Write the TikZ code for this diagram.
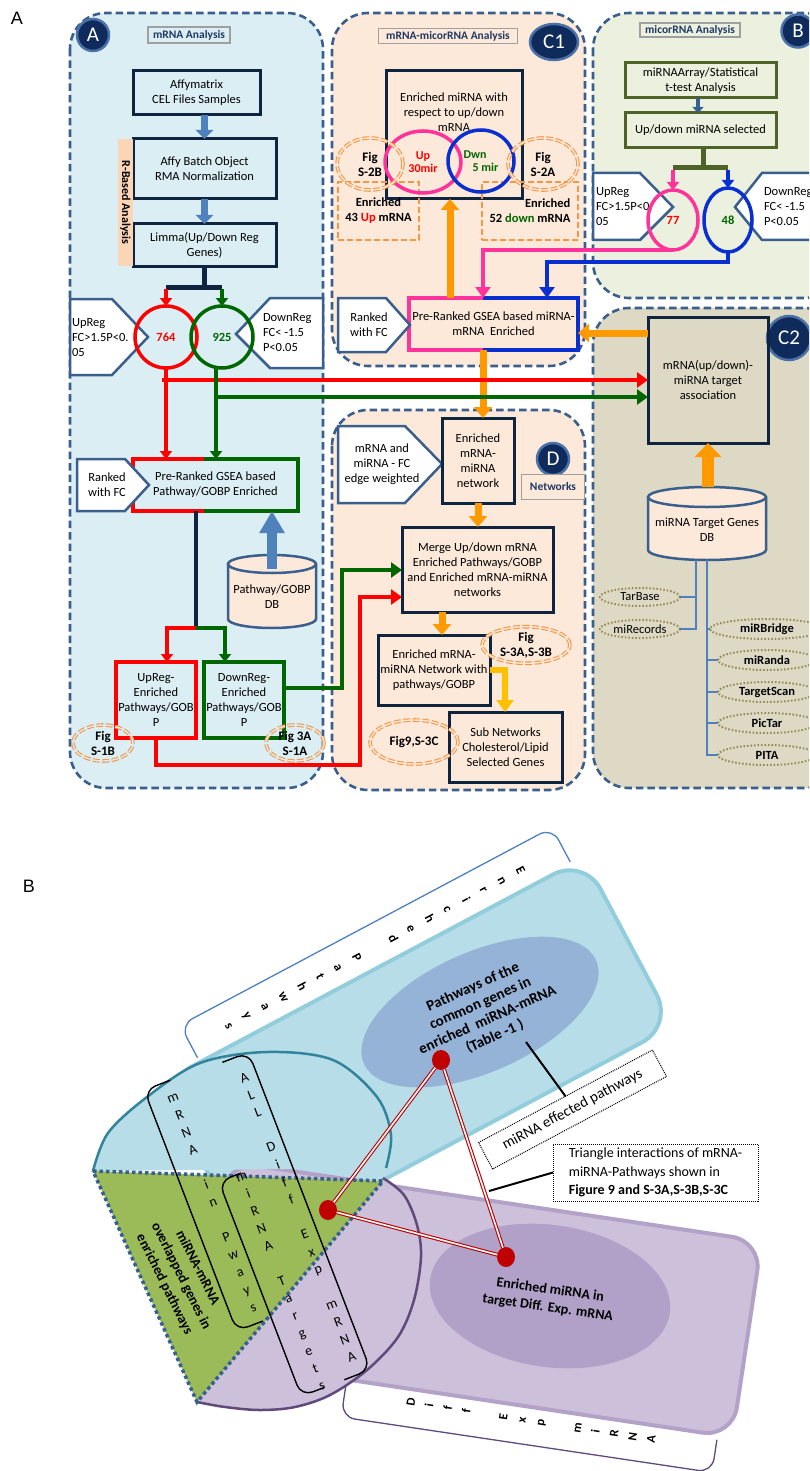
\documentclass[tikz,border=0pt]{standalone}
\usepackage{fontspec}
\setmainfont{Carlito}
\newfontfamily\arialf{Liberation Sans}
\usetikzlibrary{arrows.meta,shapes.geometric,calc}
\definecolor{fillA}{HTML}{DBEEF4}
\definecolor{fillC}{HTML}{FDE9D9}
\definecolor{fillB}{HTML}{EBF1DE}
\definecolor{fillCC}{HTML}{DDD9C4}
\definecolor{pnl}{HTML}{3A5F8C}
\definecolor{navy}{HTML}{0F243E}
\definecolor{steel}{HTML}{4F81BD}
\definecolor{rd}{HTML}{FF0000}
\definecolor{gr}{HTML}{006600}
\definecolor{pk}{HTML}{FF3399}
\definecolor{bl}{HTML}{0A2FD0}
\definecolor{org}{HTML}{FF9900}
\definecolor{gold}{HTML}{FFC000}
\definecolor{olive}{HTML}{4F6228}
\definecolor{figor}{HTML}{F79646}
\definecolor{peach}{HTML}{FBD5B5}
\definecolor{badgeF}{HTML}{0F2B5B}
\definecolor{badgeD}{HTML}{4A71A8}
\definecolor{dbolive}{HTML}{948A54}
\definecolor{lblue}{HTML}{B7DDE8}
\definecolor{lblueB}{HTML}{92CDDC}
\definecolor{pwblue}{HTML}{95B3D7}
\definecolor{lav}{HTML}{CCC0DA}
\definecolor{lavB}{HTML}{B3A2C7}
\definecolor{lavD}{HTML}{B1A0C7}
\definecolor{tealB}{HTML}{31849B}
\definecolor{purp}{HTML}{604A7B}
\definecolor{tgreen}{HTML}{9BBB59}
\definecolor{dotb}{HTML}{376092}
\definecolor{dred}{HTML}{C00000}
\definecolor{lblnavy}{HTML}{1F3864}
\tikzset{
 every node/.style={font=\fontsize{12.5}{15}\selectfont, inner sep=0pt, outer sep=0pt},
 panel/.style={draw=pnl, line width=2.6, dash pattern=on 7.5pt off 4pt, rounded corners=36},
 nbox/.style={draw=navy, line width=3, align=center},
 obox/.style={draw=olive, line width=3, align=center, fill=fillB},
 pent/.style={draw=pnl, fill=white, line width=2.5},
 badge/.style={circle, fill=badgeF, draw=badgeD, line width=2.5, text=white, font=\fontsize{21}{21}\selectfont},
 lbl/.style={draw=gray!75, line width=1.4, font=\bfseries\fontsize{11.5}{13}\selectfont, text=lblnavy, inner sep=1pt},
 figell/.style={ellipse, draw=figor, line width=1.1, double distance=1.4, dash pattern=on 7pt off 2.5pt, align=center, font=\bfseries\fontsize{13}{15}\selectfont},
 dbox/.style={draw=figor, line width=2.5, dash pattern=on 6pt off 3pt, align=center, font=\bfseries\fontsize{12.5}{15}\selectfont},
 bluear/.style={draw=steel, line width=7, -{Triangle[width=17pt,length=9pt]}},
 redln/.style={draw=rd, line width=4.5},
 grnln/.style={draw=gr, line width=4.5},
 pinkln/.style={draw=pk, line width=4},
 blueln/.style={draw=bl, line width=4},
 tipS/.style={-{Triangle[width=12pt,length=8pt]}},
 tipM/.style={-{Triangle[width=15pt,length=11pt]}},
 orar/.style={draw=org, line width=7, -{Triangle[width=18pt,length=11pt]}},
 navl/.style={draw=navy, line width=4.5},
 numtxt/.style={font=\bfseries\fontsize{12.5}{15}\selectfont},
 dbell/.style={ellipse, draw=dbolive, line width=2, dash pattern=on 1.5pt off 2pt, font=\fontsize{12.5}{15}\selectfont},
 dbellb/.style={dbell, font=\bfseries\fontsize{12.5}{15}\selectfont},
 thinb/.style={draw=steel, line width=1.4},
 vcol/.style={align=center, font=\fontsize{14}{18.7}\selectfont},
 dbl/.style={draw=dred, double=white, line width=1.1, double distance=1.6},
 brk/.style={draw=black, line width=1.4, rounded corners=12},
 dotbox/.style={draw=black, line width=1, dash pattern=on 1pt off 1pt, fill=white},
}
\begin{document}
\begin{tikzpicture}[x=1pt,y=-1pt,line join=miter]
\fill[white] (0,0) rectangle (809,1471);
\useasboundingbox (0,0) rectangle (809,1471);
\clip (0,0) rectangle (809,1471);

\node[font=\arialf\fontsize{18}{18}\selectfont] (labA) at (17,18) {A};
\node[font=\arialf\fontsize{18}{18}\selectfont] (labB) at (29,886) {B};

% ---------- panels
\path[panel, fill=fillA] (70,13) rectangle (323,788);
\path[panel, fill=fillC] (332,13) rectangle (585,366);
\path[panel, fill=fillC] (332,410) rectangle (585,790);
\path[panel, fill=fillB] (593,13) rectangle (840,298);
\path[panel, fill=fillCC] (593,308) rectangle (840,788);

\node[badge, minimum size=32] (bA) at (93,35) {A};
\node[badge, ellipse, minimum width=48, minimum height=36] (bC1) at (554,42) {C1};
\node[badge, minimum size=33] (bB) at (798,31) {B};
\node[badge, minimum size=44] (bC2) at (789,338) {C2};
\node[badge, minimum size=32] (bD) at (553,459) {D};

\node[lbl, fill=fillA, minimum width=82, minimum height=16] (tA) at (189,35) {mRNA Analysis};
\node[lbl, fill=fillC, minimum width=139, minimum height=15] (tC1) at (448,36) {mRNA-micorRNA Analysis};
\node[lbl, fill=fillB, minimum width=100, minimum height=14] (tB) at (690,30) {micorRNA Analysis};
\node[lbl, fill=fillC, minimum width=63, minimum height=25] (tD) at (553,487) {Networks};

% ---------- panel A
\node[nbox, minimum width=127, minimum height=44] (aff) at (196.5,93) {Affymatrix\\CEL Files Samples};
\node[nbox, minimum width=143, minimum height=60] (affy) at (204.5,169) {Affy Batch Object\\RMA Normalization};
\node[nbox, minimum width=143, minimum height=42] (limma) at (204.5,245) {Limma(Up/Down Reg\\Genes)};
\node[fill=peach, rotate=-90, minimum width=127, minimum height=15, font=\bfseries\fontsize{12}{14}\selectfont] (rba) at (125.5,202.5) {R-Based Analysis};
\draw[bluear] (aff.south -| affy.north) -- (affy.north);
\draw[bluear] (affy.south) -- (limma.north);

\path[pent] (70,299) -- (112,299) -- (148,337) -- (112,375) -- (70,375) -- cycle;
\node[anchor=west, align=left] (upA) at (72,338) {UpReg\\FC>1.5P<0.\\05};
\path[pent] (323,298) -- (270,298) -- (236,334) -- (270,368) -- (323,368) -- cycle;
\node[anchor=west, align=left] (dnA) at (263,333) {DownReg\\FC< -1.5\\P<0.05};

\node[circle, draw=rd, line width=3.5, minimum size=62, numtxt, text=rd] (c764) at (166,337) {764};
\node[circle, draw=gr, line width=3.5, minimum size=62, numtxt, text=gr] (c925) at (222,337) {925};

\coordinate (lbar) at (204.5,287);
\draw[navl] (limma.south) -- (lbar);
\draw[navl, line width=5] (c764.north |- lbar) -- (c925.north |- lbar);
\draw[redln, tipS] (c764.north |- 0,289) -- (c764.north);
\draw[grnln, tipS] (c925.north |- 0,289) -- (c925.north);

\node[minimum width=165, minimum height=52, align=center] (gseaA) at (215.5,485) {Pre-Ranked GSEA based\\Pathway/GOBP Enriched};
\draw[draw=rd, line width=3.5] (204,459) -- (gseaA.north west) -- (gseaA.south west) -- (204,511);
\draw[draw=gr, line width=3.5] (204,459) -- (gseaA.north east) -- (gseaA.south east) -- (204,511);
\path[pent] (77,459) -- (125,459) -- (149,485) -- (125,511) -- (77,511) -- cycle;
\node[align=center] (rkA) at (107,485) {Ranked\\with FC};

\node[draw=rd, line width=3.5, minimum width=80, minimum height=76, align=center] (upenr) at (156,700) {UpReg-\\Enriched\\Pathways/GOB\\P};
\node[draw=gr, line width=3.5, minimum width=80, minimum height=76, align=center] (dnenr) at (244,700) {DownReg-\\Enriched\\Pathways/GOB\\P};

% Pathway DB cylinder
\path[fill=fillC] (228,564) -- (228,619) arc[start angle=180, end angle=0, x radius=44, y radius=9] -- (316,564) -- cycle;
\draw[draw=pnl, line width=2.5] (228,564) -- (228,619) arc[start angle=180, end angle=0, x radius=44, y radius=9] -- (316,564);
\draw[draw=pnl, line width=2.5, fill=fillC] (272,564) ellipse [x radius=44, y radius=9];
\node[align=center] (pathdb) at (272,597) {Pathway/GOBP\\DB};
\coordinate (pathtop) at (272,569);
\draw[draw=steel, line width=10, -{Triangle[width=24pt,length=22pt]}] (pathtop) -- (gseaA.south -| pathtop);

\coordinate (sA) at (196,628);
\draw[navl] (gseaA.south -| sA) -- (sA);
\draw[redln, line width=4, tipS] (sA) -- (167,628) -- (167,628 |- upenr.north);
\draw[grnln, line width=4, tipS] (sA) -- (225,628) -- (225,628 |- dnenr.north);

\node[figell, double=fillA, minimum width=60, minimum height=36] (fS1B) at (103,743) {Fig\\S-1B};
\node[figell, double=fillA, minimum width=58, minimum height=36] (f3A) at (295,743) {Fig 3A\\S-1A};

% ---------- panel C1
\node[nbox, minimum width=136, minimum height=128] (enrm) at (454,135) {};
\node[align=center] (enrmt) at (454,112) {Enriched miRNA with\\respect to up/down\\mRNA};
\node[dbox, minimum width=81, minimum height=58] (up43) at (378.5,211) {Enriched\\43 \textcolor{rd}{Up} mRNA};
\node[dbox, minimum width=96, minimum height=58, align=right] (dn52) at (530,211) {Enriched\\52 \textcolor{gr}{down} mRNA};
\node[ellipse, draw=pk, line width=3.5, minimum width=76, minimum height=62, text=rd, align=center, font=\bfseries\fontsize{12}{13.5}\selectfont] (up30) at (423,162) {Up\\30mir};
\node[ellipse, draw=bl, line width=3.5, minimum width=66, minimum height=62, text=gr, align=left, font=\bfseries\fontsize{12}{13.5}\selectfont] (dw5) at (481,161) {Dwn\\\hspace*{9pt}5 mir};
\node[figell, double=fillC, minimum width=66, minimum height=52] (fS2B) at (370,164) {Fig\\S-2B};
\node[figell, double=fillC, minimum width=70, minimum height=52] (fS2A) at (543,164) {Fig\\S-2A};

\node[minimum width=169, minimum height=52, align=center] (gseaM) at (493.5,324) {Pre-Ranked GSEA based miRNA-\\mRNA\ \ Enriched};
\draw[draw=pk, line width=3.5] (483,298) -- (gseaM.north west) -- (gseaM.south west) -- (483,350);
\draw[draw=bl, line width=3.5] (483,298) -- (gseaM.north east) -- (gseaM.south east) -- (483,350);
\path[pent] (338,298) -- (386,298) -- (410,325) -- (386,352) -- (338,352) -- cycle;
\node[align=center] (rkC) at (369,325) {Ranked\\with FC};
\draw[orar] (gseaM.north -| 450,0) -- (enrm.south -| 450,0);

% ---------- panel B
\node[obox, minimum width=151, minimum height=35] (mirarr) at (700.5,80.5) {miRNAArray/Statistical\\t-test Analysis};
\node[obox, minimum width=151, minimum height=35] (updn) at (700.5,130.5) {Up/down miRNA selected};
\draw[draw=dotb, line width=4.5, -{Triangle[width=11pt,length=6pt]}] (mirarr.south -| 698,0) -- (updn.north -| 698,0);
\path[pent] (593,173) -- (640,173) -- (673,207) -- (640,240) -- (593,240) -- cycle;
\node[anchor=west, align=left] (upB) at (596,207) {UpReg\\FC>1.5P<0.\\05};
\path[pent] (840,173) -- (762,173) -- (735,207) -- (762,240) -- (840,240) -- cycle;
\node[anchor=west, align=left] (dnB) at (764,207) {DownReg\\FC< -1.5\\P<0.05};
\node[ellipse, draw=pk, line width=3.5, minimum width=50, minimum height=60, numtxt, text=rd] (u77) at (673,220) {77};
\node[ellipse, draw=bl, line width=3.5, minimum width=48, minimum height=64, numtxt, text=gr] (d48) at (728,220) {48};
\coordinate (bbar) at (703,168);
\draw[draw=olive, line width=5] (updn.south -| bbar) -- (bbar);
\draw[draw=olive, line width=5] (u77.north |- bbar) -- (d48.north |- bbar);
\draw[pinkln, tipS] (u77.north |- 0,170) -- (u77.north);
\draw[blueln, tipS] (d48.north |- 0,170) -- (d48.north);

\draw[pinkln, tipM] (u77.south) -- (483,250) -- (483,250 |- gseaM.north);
\draw[blueln, tipM] (d48.south) -- (728,262) -- (547,262) -- (547,262 |- gseaM.north);

% ---------- panel C2
\node[nbox, minimum width=120, minimum height=126] (assoc) at (708,380) {mRNA(up/down)-\\miRNA target\\association};
\path[fill=fillC] (648,497) -- (648,550) arc[start angle=180, end angle=0, x radius=59, y radius=10] -- (766,497) -- cycle;
\draw[draw=pnl, line width=2.5] (648,497) -- (648,550) arc[start angle=180, end angle=0, x radius=59, y radius=10] -- (766,497);
\draw[draw=pnl, line width=2.5, fill=fillC] (707,497) ellipse [x radius=59, y radius=10];
\node[align=center] (targdb) at (707,530) {miRNA Target Genes\\DB};
\coordinate (tdbtop) at (708,487);
\draw[draw=org, line width=12, -{Triangle[width=26pt,length=14pt]}] (tdbtop) -- (assoc.south -| tdbtop);
\draw[orar] (assoc.west |- 0,333) -- (gseaM.east |- 0,333);

\node[dbell, minimum width=80, minimum height=18] (tarb) at (640,597) {TarBase};
\node[dbell, minimum width=80, minimum height=18] (mirec) at (640,629) {miRecords};
\node[dbellb, minimum width=114, minimum height=20] (mirb) at (767,629) {miRBridge};
\node[dbellb, minimum width=98, minimum height=20] (mira) at (767,660) {miRanda};
\node[dbellb, minimum width=98, minimum height=20] (tscan) at (767,692) {TargetScan};
\node[dbellb, minimum width=98, minimum height=20] (pict) at (767,723) {PicTar};
\node[dbellb, minimum width=98, minimum height=20] (pita) at (767,755) {PITA};
\coordinate (v1t) at (696,560);
\coordinate (v2t) at (707,560);
\draw[thinb] (v1t) |- (mirec.east);
\draw[thinb] (tarb.east) -| (v1t);
\draw[thinb] (v2t) |- (pita.west);
\draw[thinb] (v2t |- mirb.west) -- (mirb.west);
\draw[thinb] (v2t |- mira.west) -- (mira.west);
\draw[thinb] (v2t |- tscan.west) -- (tscan.west);
\draw[thinb] (v2t |- pict.west) -- (pict.west);

% ---------- panel D
\path[pent] (338,426) -- (405,426) -- (442,464) -- (405,503) -- (338,503) -- cycle;
\node[align=center] (edgeW) at (382,464) {mRNA and\\miRNA - FC\\edge weighted};
\node[nbox, minimum width=72, minimum height=85] (enrnet) at (478,460.5) {Enriched\\mRNA-\\miRNA\\network};
\node[nbox, minimum width=151, minimum height=85] (merge) at (477.5,569.5) {Merge Up/down mRNA\\Enriched Pathways/GOBP\\and Enriched mRNA-miRNA\\networks};
\node[nbox, minimum width=112, minimum height=70] (netpw) at (434,670) {Enriched mRNA-\\miRNA Network with\\pathways/GOBP};
\node[nbox, minimum width=113, minimum height=70] (subnet) at (505.5,747) {Sub Networks\\Cholesterol/Lipid\\Selected Genes};
\draw[orar] (gseaM.south -| 483,0) -- (enrnet.north -| 483,0);
\draw[orar] (enrnet.south) -- (merge.north -| enrnet.south);
\draw[orar] (merge.south -| 442,0) -- (netpw.north -| 442,0);
\draw[draw=gold, line width=6, -{Triangle[width=17pt,length=12pt]}] (netpw.east) -- (505,670) -- (subnet.north -| 505,0);
\node[figell, double=fillC, minimum width=88, minimum height=36] (fS3) at (526,645) {Fig\\S-3A,S-3B};
\node[figell, double=fillC, minimum width=88, minimum height=44] (f9) at (414,742) {Fig9,S-3C};

% ---------- long red / green connectors
\coordinate (rh) at (162,380);
\coordinate (gh) at (216,397);
\draw[redln] (c764.south) -- (c764.south |- gseaA.north);
\draw[redln, tipS] (c764.south |- gseaA.north) ++(0,-12) -- (c764.south |- gseaA.north);
\draw[redln, tipM] (rh) -- (assoc.west);
\draw[grnln, tipM] (gh) -- (gh -| assoc.west);
\draw[grnln, tipS] (216,368) -- (216,459);
\draw[grnln, tipM] (dnenr.east |- 0,688) -- (342,688) -- (342,570) -- (merge.west |- 0,570);
\draw[redln, tipM] (upenr.south) -- (156,765) -- (360,765) -- (360,597) -- (merge.west |- 0,597);

% ================= Part B =================
\begin{scope}[rotate around={28:(584,858)}]
 \path[fill=lblue, draw=lblueB, line width=4, rounded corners=35] (104,858) rectangle (584,1048);
 \draw[draw=steel, line width=1.3, rounded corners=14] (149,853) -- (149,816) -- (570,816) -- (570,855);
\end{scope}
\node[rotate=-62, align=center, font=\bfseries\fontsize{13}{20.6}\selectfont] (tEP) at (375,948) {E\\n\\r\\i\\c\\h\\e\\d\\~\\P\\a\\t\\h\\w\\a\\y\\s};
\fill[pwblue, rotate around={24:(480,1012)}] (480,1012) ellipse [x radius=127, y radius=60];

\begin{scope}[rotate around={-8.5:(485,1300)}]
 \path[fill=lav, draw=lavB, line width=4, rounded corners=30] (210,1201) rectangle (750,1399);
 \draw[draw=purp, line width=1.3, rounded corners=14] (360,1404) -- (360,1437) -- (735,1437) -- (735,1404);
\end{scope}
\node[rotate=81.2, align=center, font=\bfseries\fontsize{12.5}{18.7}\selectfont] (tDE) at (531,1421) {D\\i\\f\\f\\~\\E\\x\\p\\~\\m\\i\\R\\N\\A};
\fill[lavD, rotate around={-8:(550,1296)}] (550,1296) ellipse [x radius=121, y radius=71];

\path[fill=lblue] plot[smooth, tension=0.55] coordinates {(93,1171) (108,1133) (147,1097) (200,1063) (267,1052) (333,1060) (377,1097) (391,1135) (386,1168)} -- cycle;
\draw[draw=tealB, line width=2.5] plot[smooth, tension=0.55] coordinates {(93,1171) (108,1133) (147,1097) (200,1063) (267,1052) (333,1060) (377,1097) (391,1135) (386,1168)};
\path[fill=lav] plot[smooth, tension=0.55] coordinates {(383,1178) (404,1195) (417,1225) (421,1257) (414,1300) (398,1337) (367,1370) (330,1395) (295,1407) (260,1410) (225,1407) (197,1402)} -- cycle;
\draw[draw=purp, line width=2.5] plot[smooth, tension=0.55] coordinates {(383,1178) (404,1195) (417,1225) (421,1257) (414,1300) (398,1337) (367,1370) (330,1395) (295,1407) (260,1410) (225,1407) (197,1402)};
\path[fill=tgreen] (93,1171) -- (383,1181) -- (197,1402) -- cycle;
\draw[draw=dotb, line width=3.5, dash pattern=on 3.5pt off 3pt] (93,1171) -- (383,1181) -- (197,1402) -- cycle;

\begin{scope}[rotate around={21:(260,1230)}, transform shape]
 \draw[brk] (230,1058) -- (202,1058) -- (202,1316) -- (230,1316);
 \draw[brk] (263,1170) -- (239,1170) -- (239,1400) -- (263,1400);
 \draw[brk] (285,1060) -- (313,1060) -- (313,1400) -- (285,1400);
 \node[vcol] (colm) at (226,1188.5) {m\\R\\N\\A\\~\\i\\n\\~\\P\\w\\a\\y\\s};
 \node[vcol] (cola) at (300,1231.5) {A\\L\\L\\~\\D\\i\\f\\f\\~\\E\\x\\p\\~\\m\\R\\N\\A};
 \node[vcol] (colt) at (262,1286.5) {m\\i\\R\\N\\A\\~\\T\\a\\r\\g\\e\\t\\s};
\end{scope}

\node[rotate=-63.4, align=center, font=\bfseries\fontsize{14}{18.5}\selectfont] (ttri) at (181,1276) {miRNA-mRNA\\overlapped genes in\\enriched pathways};
\node[rotate=24, align=center, font=\bfseries\fontsize{15}{18}\selectfont] (tpw) at (484,1012) {Pathways of the\\common genes in\\enriched\ \ miRNA-mRNA\\(Table -1 )};
\node[rotate=-8, align=center, font=\bfseries\fontsize{14}{18}\selectfont] (tmi) at (549,1299) {Enriched miRNA in\\target Diff. Exp. mRNA};

\node[ellipse, fill=dred, minimum width=18, minimum height=20] (d1) at (441,1060) {};
\node[ellipse, fill=dred, minimum width=18, minimum height=20] (d2) at (328,1210) {};
\node[ellipse, fill=dred, minimum width=18, minimum height=20] (d3) at (506,1257) {};
\draw[dbl] (d1) -- (d2);
\draw[dbl] (d1) -- (d3);
\draw[dbl] (d2) -- (d3);

\node[dotbox, rotate=28, minimum width=197, minimum height=30, font=\fontsize{15}{17}\selectfont] (eff) at (572.5,1109.5) {miRNA effected pathways};
\coordinate (effp) at (526,1042);
\draw[line width=2] (effp) -- (eff.north);

\node[dotbox, align=left, minimum width=205, minimum height=57, font=\fontsize{14}{18.5}\selectfont] (tri) at (655.5,1172.5) {Triangle interactions of mRNA-\\miRNA-Pathways shown in\\\textbf{Figure 9 and S-3A,S-3B,S-3C}};
\coordinate (trip) at (489,1191);
\draw[line width=2] (tri.west) -- (trip);
\end{tikzpicture}
\end{document}
